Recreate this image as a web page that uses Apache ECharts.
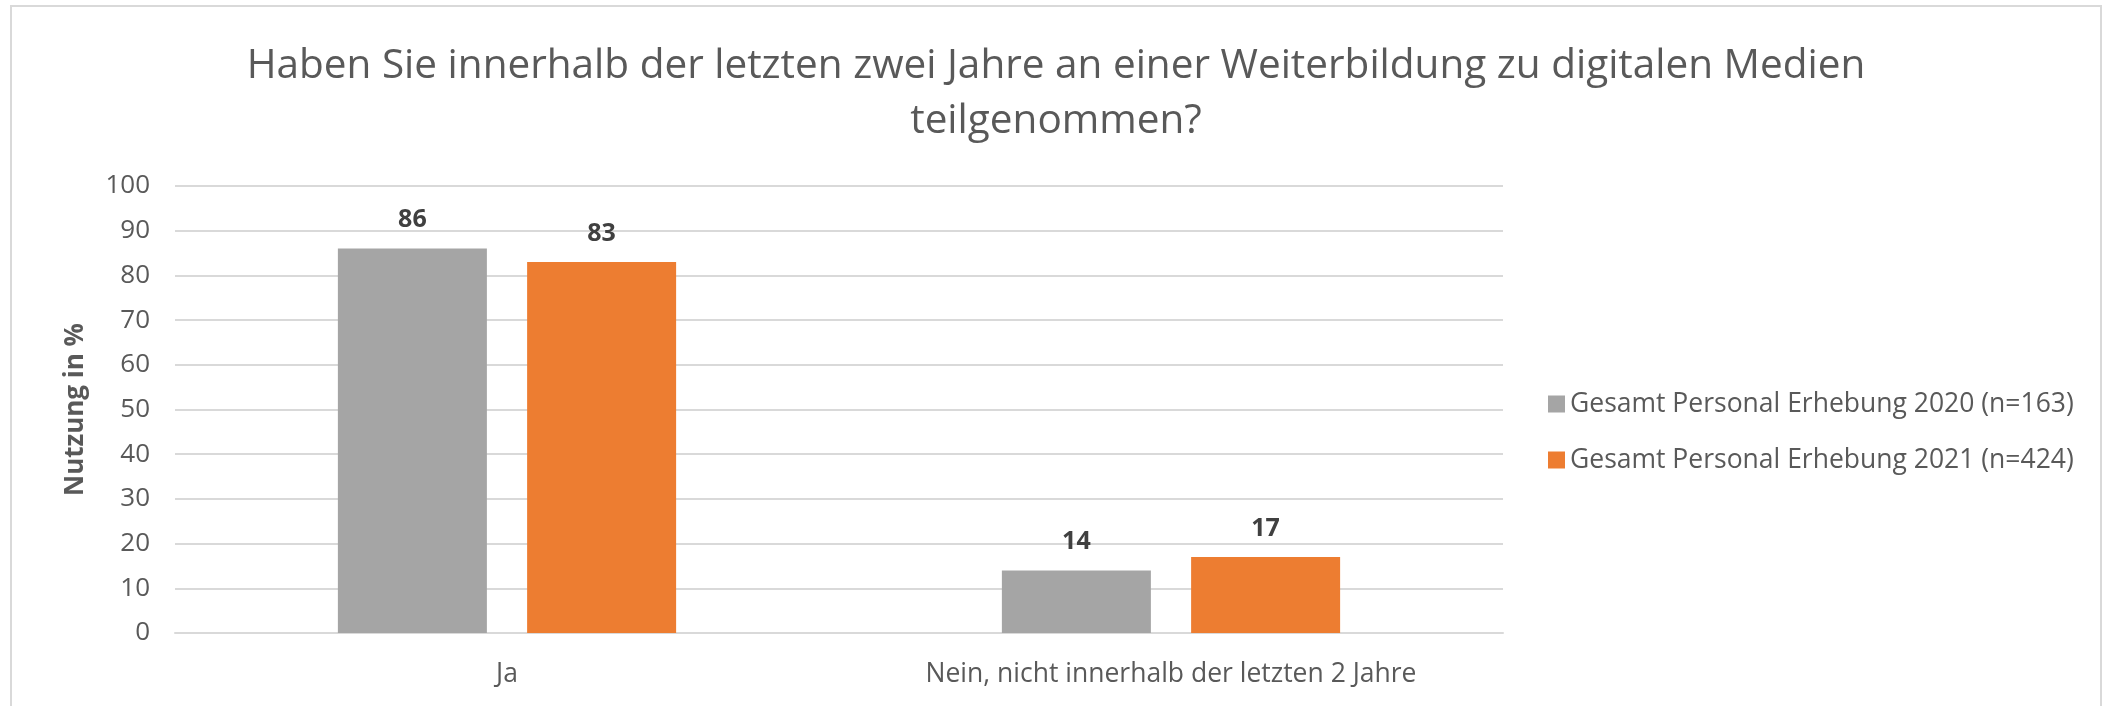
<!DOCTYPE html>
<html>
<head>
<meta charset="utf-8">
<title>Weiterbildung digitale Medien</title>
<script src="https://cdn.jsdelivr.net/npm/echarts@6/dist/echarts.min.js"></script>
<style>
  html, body { margin: 0; padding: 0; background: #fff; }
  #chartWeiterbildung { width: 2113px; height: 706px; }
</style>
</head>
<body>
<div id="chartWeiterbildung"></div>
<script>
/* ============================================================
   Weiterbildung zu digitalen Medien — gruppiertes Säulendiagramm
   2020 vs 2021, Anteil in %
   ============================================================ */

// ---- Daten ----
var categories   = ["Ja", "Nein, nicht innerhalb der letzten 2 Jahre"];
var seriesNames  = ["Gesamt Personal Erhebung 2020 (n=163)", "Gesamt Personal Erhebung 2021 (n=424)"];
var values2020   = [86, 14];
var values2021   = [83, 17];
var yTicks       = [0, 10, 20, 30, 40, 50, 60, 70, 80, 90, 100];

// ---- Farben (Excel-Standard) ----
var COLORS = {
  gray:   "#A5A5A5",
  orange: "#ED7D31",
  grid:   "#D9D9D9",
  text:   "#595959",
  label:  "#404040",
};

var FONT = "'Open Sans', 'Noto Sans', sans-serif";

function barSeries(name, data, color) {
  return {
    name: name,
    type: "bar",
    data: data,
    barWidth: 149,
    barGap: "27%",
    itemStyle: { color: color },
    label: {
      show: true,
      position: "top",
      distance: 16,
      fontFamily: FONT,
      fontWeight: "bold",
      fontSize: 25,
      color: COLORS.label,
    },
  };
}

function initChart() {
  var dom = document.getElementById("chartWeiterbildung");
  var chart = echarts.init(dom, null, { renderer: "canvas" });

  chart.setOption({
    animation: false,
    backgroundColor: "#fff",
    color: [COLORS.gray, COLORS.orange],
    title: {
      text: "Haben Sie innerhalb der letzten zwei Jahre an einer Weiterbildung zu digitalen Medien\nteilgenommen?",
      left: 1051,
      top: 34,
      textAlign: "center",
      textStyle: {
        fontFamily: FONT,
        fontWeight: "normal",
        fontSize: 40.5,
        lineHeight: 55,
        color: COLORS.text,
      },
    },
    legend: {
      orient: "vertical",
      left: 1543,
      top: 384,
      icon: "rect",
      itemWidth: 17,
      itemHeight: 17,
      itemGap: 26,
      data: seriesNames,
      textStyle: { fontFamily: FONT, fontSize: 26.5, lineHeight: 30, color: COLORS.text },
    },
    grid: { left: 175, right: 610, top: 186, bottom: 73 },
    xAxis: {
      type: "category",
      data: categories,
      axisTick: { show: false },
      axisLine: { lineStyle: { color: COLORS.grid, width: 2 } },
      axisLabel: { margin: 28, fontFamily: FONT, fontSize: 26.5, color: COLORS.text },
    },
    yAxis: {
      type: "value",
      min: yTicks[0],
      max: yTicks[yTicks.length - 1],
      interval: yTicks[1] - yTicks[0],
      name: "Nutzung in %",
      nameLocation: "middle",
      nameGap: 86,
      nameTextStyle: { fontFamily: FONT, fontWeight: "bold", fontSize: 26, color: COLORS.text },
      axisLine: { show: false },
      axisTick: { show: false },
      axisLabel: { margin: 25, fontFamily: FONT, fontSize: 26, color: COLORS.text },
      splitLine: { lineStyle: { color: COLORS.grid, width: 2 } },
    },
    graphic: [{
      type: "rect",
      shape: { x: 11, y: 6, width: 2090, height: 720 },
      style: { fill: null, stroke: COLORS.grid, lineWidth: 2 },
      silent: true,
      z: -1,
    }],
    series: [
      barSeries(seriesNames[0], values2020, COLORS.gray),
      barSeries(seriesNames[1], values2021, COLORS.orange),
    ],
  });
  return chart;
}

initChart();
</script>
</body>
</html>
